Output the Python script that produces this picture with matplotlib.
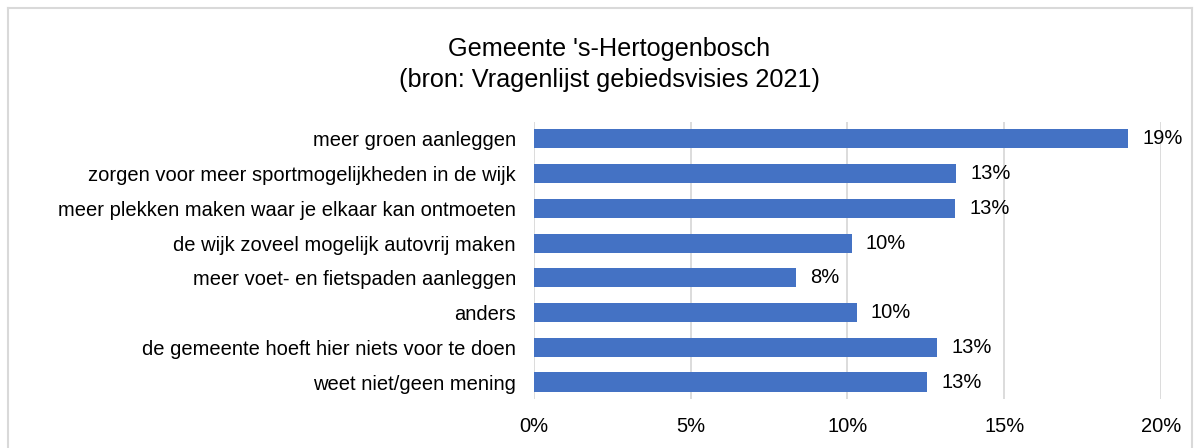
import matplotlib.pyplot as plt
from matplotlib.ticker import FuncFormatter
from matplotlib.lines import Line2D

plt.rcParams['font.family'] = ['Liberation Sans', 'DejaVu Sans']

# data
categories = [
    'meer groen aanleggen',
    'zorgen voor meer sportmogelijkheden in de wijk',
    'meer plekken maken waar je elkaar kan ontmoeten',
    'de wijk zoveel mogelijk autovrij maken',
    'meer voet- en fietspaden aanleggen',
    'anders',
    'de gemeente hoeft hier niets voor te doen',
    'weet niet/geen mening',
]
values = [18.96, 13.47, 13.44, 10.14, 8.35, 10.29, 12.87, 12.55]
value_labels = ['19%', '13%', '13%', '10%', '8%', '10%', '13%', '13%']
x_ticks = [0, 5, 10, 15, 20]

fig = plt.figure(figsize=(12.02, 4.48), dpi=100)
ax = fig.add_axes([0.4443, 0.1085, 0.5215, 0.6201])

y = list(range(len(categories)))
ax.barh(y, values, height=0.55, color='#4472C4', zorder=3)
ax.set_ylim(len(categories) - 0.5, -0.5)
ax.set_yticks(y)
ax.set_yticklabels(categories, fontsize=14.5)

for yi, v, lab in zip(y, values, value_labels):
    ax.annotate(lab, (v, yi), xytext=(10, 0), textcoords='offset points',
                ha='left', va='center', fontsize=14.5)

ax.set_xlim(0, 20)
ax.set_xticks(x_ticks)
ax.xaxis.set_major_formatter(FuncFormatter(lambda v, p: f'{v:.0f}%'))
ax.tick_params(axis='x', labelsize=14.5, length=0, pad=13)
ax.tick_params(axis='y', length=0, pad=13)
ax.grid(axis='x', color='#D9D9D9', linewidth=1.3, zorder=0)
for s in ax.spines.values():
    s.set_visible(False)

fig.text(0.5067, 0.890, "Gemeente 's-Hertogenbosch", ha='center', va='center', fontsize=18.2)
fig.text(0.5067, 0.822, "(bron: Vragenlijst gebiedsvisies 2021)", ha='center', va='center', fontsize=18.2)

# light chart-area border
bc = '#D9D9D9'
fig.add_artist(Line2D([0.007, 0.992], [0.982, 0.982], color=bc, lw=1.5, transform=fig.transFigure))
fig.add_artist(Line2D([0.007, 0.007], [0.0, 0.982], color=bc, lw=1.5, transform=fig.transFigure))
fig.add_artist(Line2D([0.992, 0.992], [0.0, 0.982], color=bc, lw=1.5, transform=fig.transFigure))

fig.savefig('out.png', dpi=100)
